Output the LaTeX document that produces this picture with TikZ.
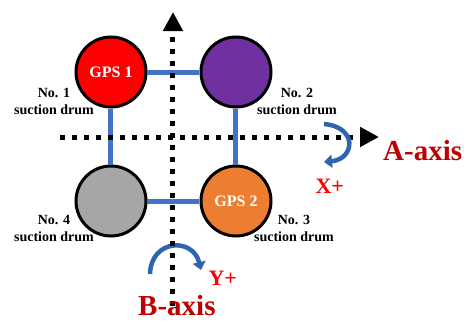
\documentclass[tikz,border=0pt]{standalone}
\usepackage{fontspec}
\setmainfont{Liberation Serif}
\usetikzlibrary{arrows.meta, positioning}
\definecolor{DrumRed}{HTML}{FF0000}
\definecolor{DrumPurple}{HTML}{7030A0}
\definecolor{DrumGray}{HTML}{A6A6A6}
\definecolor{DrumOrange}{HTML}{ED7D31}
\definecolor{PipeBlue}{HTML}{4472C4}
\definecolor{TwistBlue}{HTML}{2E64B0}
\definecolor{AxisRed}{HTML}{C00000}
\tikzset{
  drum/.style={circle, draw=black, line width=3pt, minimum size=70pt, inner sep=0pt,
    text=white, font=\bfseries\fontsize{16}{18}\selectfont},
  pipe/.style={PipeBlue, line width=5pt},
  axisline/.style={line width=5pt, dash pattern=on 5pt off 7pt,
    -{Triangle[width=19pt, length=19pt]}},
  twist/.style={TwistBlue, line width=4.5pt, -{Triangle[width=13pt, length=8pt]}},
  tag/.style={align=center, font=\bfseries\fontsize{14}{17}\selectfont},
  axisname/.style={AxisRed, font=\bfseries\fontsize{29}{31}\selectfont,
    anchor=base west, inner sep=1pt},
  signname/.style={red, font=\bfseries\fontsize{22}{24}\selectfont, anchor=base west}
}

\begin{document}
\begin{tikzpicture}[x=1pt, y=1pt]
  \useasboundingbox (-173,-185) rectangle (291,137);
  % drums
  \node[drum, fill=DrumRed]    (gps1)  at (-62, 65) {GPS 1};
  \node[drum, fill=DrumPurple] (drum2) at (63, 65) {};
  \node[drum, fill=DrumGray]   (drum4) at (-62, -64) {};
  \node[drum, fill=DrumOrange] (gps2)  at (63, -64) {GPS 2};
  % pipes
  \draw[pipe] (gps1) -- (drum2);
  \draw[pipe] (gps1) -- (drum4);
  \draw[pipe] (drum2) -- (gps2);
  \draw[pipe] (drum4) -- (gps2);
  % labels
  \node[tag] (lbl1) at (-119, 36) {No. 1\\suction drum};
  \node[tag] (lbl2) at (124, 36) {No. 2\\suction drum};
  \node[tag] (lbl3) at (121, -91) {No. 3\\suction drum};
  \node[tag] (lbl4) at (-119, -91) {No. 4\\suction drum};
  % B-axis rotation
  \coordinate (ytail) at (-23, -137);
  \coordinate (yhead) at (28, -133);
  \draw[twist] (ytail) .. controls (-22, -102) and (20, -100) .. (yhead);
  % axes
  \coordinate (aStart) at (-113, 0);
  \coordinate (aEnd) at (206, 0);
  \coordinate (bStart) at (0, -169);
  \coordinate (bEnd) at (0, 125);
  \draw[axisline] (aStart) -- (aEnd);
  \draw[axisline] (bStart) -- (bEnd);
  % A-axis rotation
  \coordinate (xtail) at (151, 13);
  \coordinate (xhead) at (151, -25);
  \draw[twist] (xtail) .. controls (185, 10) and (182, -22) .. (xhead);
  % axis names
  \node[axisname] (aname) at (209, -23) {A-axis};
  \node[axisname] (bname) at (-36, -178) {B-axis};
  \node[signname] (xplus) at (139, -56) {X+};
  \node[signname] (yplus) at (32, -148) {Y+};
\end{tikzpicture}
\end{document}
